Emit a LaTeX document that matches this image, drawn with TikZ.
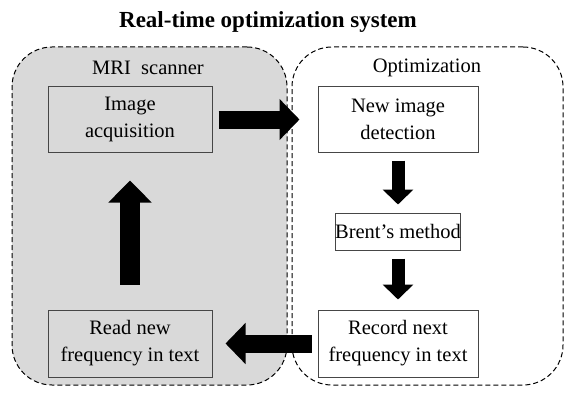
\documentclass[tikz,border=0pt]{standalone}
\usepackage{fontspec}
\setmainfont{Liberation Serif}
\usetikzlibrary{arrows.meta}
\definecolor{scanfill}{RGB}{217,217,217}
\definecolor{boxline}{RGB}{70,70,70}
\begin{document}
\begin{tikzpicture}[x=1pt,y=-1pt,
  panel/.style={draw=black, dash pattern=on 5pt off 3pt, line width=1pt,
    rounded corners=40pt, minimum height=338pt, inner sep=0pt},
  paneltitle/.style={font=\fontsize{20.5}{24}\selectfont},
  stepbox/.style={draw=boxline, line width=1pt, inner sep=0pt, align=center,
    font=\fontsize{20.5}{27}\selectfont},
  bigarrow/.style={line width=18pt, -{Triangle[length=20pt,width=40pt]}},
  smallarrow/.style={line width=13pt, -{Triangle[length=15pt,width=30pt]}},
  uparrow/.style={line width=20pt, -{Triangle[length=22pt,width=42pt]}}
]
\useasboundingbox (0,0) rectangle (577,401);

% title
\node[font=\bfseries\fontsize{23}{27}\selectfont] (title) at (268,22) {Real-time optimization system};

% the two dashed panels
\node[panel, fill=scanfill, minimum width=275pt] (scanner) at (149.5,216) {};
\node[panel, minimum width=271pt] (optim) at (427.5,216) {};
\node[paneltitle] (scannerlbl) at (148,68) {MRI\ \ scanner};
\node[paneltitle] (optimlbl) at (427,68) {Optimization};

% process steps
\node[stepbox, minimum width=164pt, minimum height=65pt] (acq) at (130,119.5) {Image\\acquisition};
\node[stepbox, fill=white, minimum width=160pt, minimum height=65pt] (newimg) at (398,119.5) {New image\\detection};
\node[stepbox, fill=white, minimum width=110pt, minimum height=37pt] (brent) at (398,231.5) {Brent’s method};
\node[stepbox, fill=white, minimum width=160pt, minimum height=67pt] (record) at (398,343.5) {Record next\\frequency in text};
\node[stepbox, minimum width=164pt, minimum height=67pt] (read) at (130,343.5) {Read new\\frequency in text};

% block arrows between steps
\draw[bigarrow, shorten <=6pt, shorten >=18pt] (acq) -- (newimg);
\draw[smallarrow, shorten <=8pt, shorten >=8pt] (newimg) -- (brent);
\draw[smallarrow, shorten <=8pt, shorten >=10pt] (brent) -- (record);
\draw[bigarrow, shorten <=6pt, shorten >=13pt] (record) -- (read);
\draw[uparrow, shorten <=25pt, shorten >=28pt] (read) -- (acq);
\end{tikzpicture}
\end{document}
